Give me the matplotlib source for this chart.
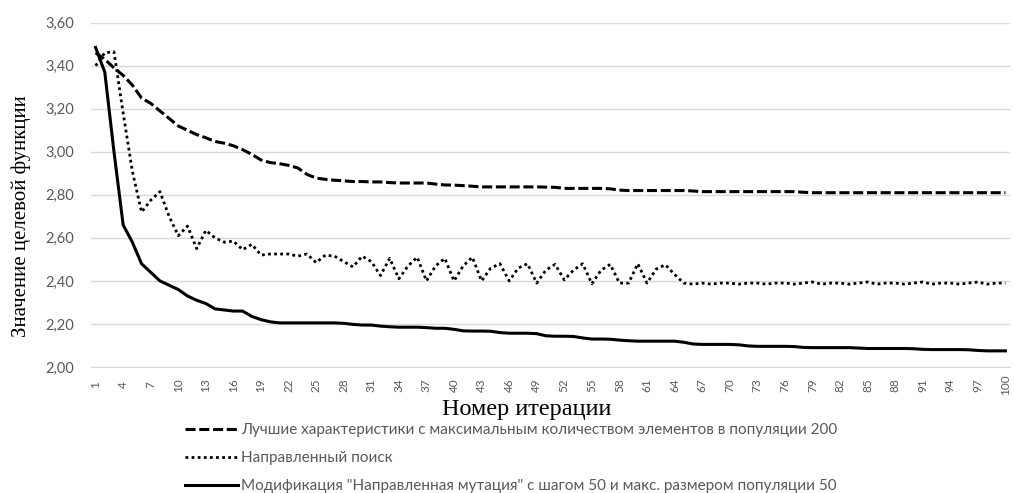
import numpy as np
import matplotlib
matplotlib.use("Agg")
import matplotlib.pyplot as plt

# iteration numbers (categories) and tick labels
iterations = list(range(1, 101))
tick_iters = list(range(1, 101, 3))
y_ticks = [2.0, 2.2, 2.4, 2.6, 2.8, 3.0, 3.2, 3.4, 3.6]
y_tick_labels = ["2,00", "2,20", "2,40", "2,60", "2,80", "3,00", "3,20", "3,40", "3,60"]

best_200 = [
    3.46, 3.43, 3.39, 3.355, 3.31, 3.25, 3.225, 3.19, 3.155, 3.12,
    3.10, 3.08, 3.065, 3.048, 3.04, 3.028, 3.01, 2.988, 2.962, 2.95,
    2.945, 2.937, 2.925, 2.895, 2.878, 2.872, 2.868, 2.865, 2.862, 2.862,
    2.86, 2.86, 2.857, 2.855, 2.855, 2.855, 2.855, 2.85, 2.846, 2.845,
    2.843, 2.84, 2.837, 2.837, 2.837, 2.837, 2.837, 2.837, 2.837, 2.836,
    2.835, 2.83, 2.83, 2.83, 2.83, 2.83, 2.828, 2.822, 2.82, 2.82,
    2.82, 2.82, 2.82, 2.82, 2.82, 2.818, 2.815, 2.815, 2.815, 2.815,
    2.815, 2.815, 2.815, 2.815, 2.815, 2.815, 2.815, 2.812, 2.81, 2.81,
    2.81, 2.81, 2.81, 2.81, 2.81, 2.81, 2.81, 2.81, 2.81, 2.81,
    2.81, 2.81, 2.81, 2.81, 2.81, 2.81, 2.81, 2.81, 2.81, 2.81,
]

directed_search = [
    3.40, 3.46, 3.465, 3.18, 2.91, 2.72, 2.775, 2.815, 2.70, 2.61,
    2.655, 2.55, 2.635, 2.60, 2.58, 2.585, 2.545, 2.57, 2.52, 2.525,
    2.525, 2.525, 2.515, 2.525, 2.485, 2.52, 2.515, 2.49, 2.465, 2.515,
    2.49, 2.425, 2.505, 2.41, 2.47, 2.51, 2.40, 2.47, 2.505, 2.40,
    2.47, 2.51, 2.40, 2.46, 2.48, 2.40, 2.46, 2.48, 2.39, 2.45,
    2.477, 2.405, 2.45, 2.48, 2.387, 2.45, 2.477, 2.39, 2.39, 2.48,
    2.39, 2.455, 2.475, 2.43, 2.39, 2.385, 2.39, 2.385, 2.39, 2.39,
    2.385, 2.39, 2.39, 2.385, 2.39, 2.39, 2.385, 2.39, 2.395, 2.385,
    2.39, 2.39, 2.385, 2.39, 2.395, 2.385, 2.39, 2.39, 2.385, 2.39,
    2.395, 2.385, 2.39, 2.39, 2.385, 2.39, 2.395, 2.385, 2.39, 2.39,
]

directed_mutation = [
    3.485, 3.37, 3.00, 2.66, 2.58, 2.48, 2.44, 2.40, 2.38, 2.36,
    2.33, 2.31, 2.295, 2.27, 2.265, 2.26, 2.26, 2.235, 2.22, 2.21,
    2.205, 2.205, 2.205, 2.205, 2.205, 2.205, 2.205, 2.203, 2.198, 2.195,
    2.195, 2.19, 2.187, 2.185, 2.185, 2.185, 2.183, 2.18, 2.18, 2.175,
    2.168, 2.167, 2.167, 2.166, 2.16, 2.157, 2.157, 2.157, 2.155, 2.145,
    2.143, 2.143, 2.142, 2.135, 2.13, 2.13, 2.129, 2.125, 2.122, 2.12,
    2.12, 2.12, 2.12, 2.12, 2.115, 2.107, 2.105, 2.105, 2.105, 2.105,
    2.103, 2.098, 2.096, 2.096, 2.096, 2.096, 2.095, 2.091, 2.09, 2.09,
    2.09, 2.09, 2.09, 2.088, 2.086, 2.086, 2.086, 2.086, 2.086, 2.085,
    2.082, 2.081, 2.081, 2.081, 2.081, 2.08, 2.077, 2.075, 2.075, 2.075,
]

labels = [
    "Лучшие характеристики с максимальным количеством элементов в популяции 200",
    "Направленный поиск",
    'Модификация "Направленная мутация" с шагом 50 и макс. размером популяции 50',
]

W, H = 1014, 493
sans = ["Lato", "Open Sans", "DejaVu Sans"]
serif = ["Liberation Serif", "DejaVu Serif"]
gray = "#595959"

fig = plt.figure(figsize=(W / 100, H / 100), dpi=100)
ax = fig.add_axes([91 / W, 1 - 367 / H, (1010 - 91) / W, (367 - 22.7) / H])

ax.plot(iterations, best_200, color="black", lw=2.2, ls=(0, (3.3, 1.2)), label=labels[0])
ax.plot(iterations, directed_search, color="black", lw=2.0, ls=(0, (1, 1.2)), label=labels[1])
ax.plot(iterations, directed_mutation, color="black", lw=2.2, ls="-", label=labels[2])

ax.set_xlim(0.5, 100.5)
ax.set_ylim(2.0, 3.6)
ax.set_yticks(y_ticks)
ax.set_yticklabels(y_tick_labels, family=sans, fontsize=10.5, color=gray)
ax.set_xticks(tick_iters)
ax.set_xticklabels([str(t) for t in tick_iters], family=sans, fontsize=8.5,
                   color=gray, rotation=90, va="center")
ax.tick_params(axis="x", length=0, pad=13)
ax.tick_params(axis="y", length=0, pad=12)
ax.grid(axis="y", color="#d9d9d9", lw=1.0)
ax.set_axisbelow(True)
for side in ["top", "right", "left"]:
    ax.spines[side].set_visible(False)
ax.spines["bottom"].set_color("#d9d9d9")

fig.text(21 / W, 1 - 216 / H, "Значение целевой функции", rotation=90,
         ha="center", va="center", family=serif, fontsize=15)
fig.text(527 / W, 1 - 410 / H, "Номер итерации", ha="center", va="center",
         family=serif, fontsize=17.5)

fig.legend(loc="upper left", bbox_to_anchor=(185 / W, 1 - 423 / H),
           frameon=False, borderpad=0, borderaxespad=0, handlelength=3.45,
           handletextpad=0.24, labelspacing=0.92,
           prop={"family": sans, "size": 11}, labelcolor=gray)

fig.savefig("out.png", dpi=100)
